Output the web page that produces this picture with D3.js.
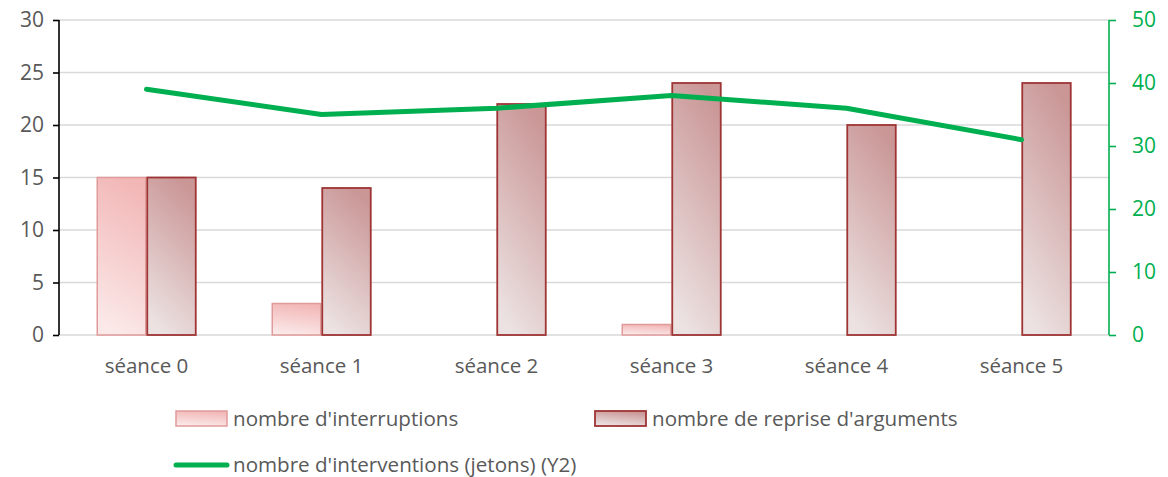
<!DOCTYPE html>
<meta charset="utf-8">
<style>
body { margin: 0; background: #fff; }
text { font-family: "Open Sans", sans-serif; }
.grid line { stroke: #D9D9D9; stroke-width: 1.3; }
.axis--y text { fill: #595959; font-size: 21px; }
.axis--x text { fill: #595959; font-size: 20.5px; }
.axis--y2 text { fill: #00B050; font-size: 21px; }
.legend text { fill: #595959; font-size: 20.6px; }
</style>
<svg width="1168" height="477"></svg>
<script src="https://cdn.jsdelivr.net/npm/d3@7"></script>
<script>
var categories = ["séance 0", "séance 1", "séance 2", "séance 3", "séance 4", "séance 5"];
var interruptions = [15, 3, 0, 1, 0, 0];
var reprises = [15, 14, 22, 24, 20, 24];
var interventions = [39, 35, 36, 38, 36, 31];
var yTicks = [0, 5, 10, 15, 20, 25, 30];
var y2Ticks = [0, 10, 20, 30, 40, 50];
var seriesNames = ["nombre d'interruptions", "nombre de reprise d'arguments", "nombre d'interventions (jetons) (Y2)"];

var svg = d3.select("svg"),
    margin = {top: 20, right: 59, bottom: 142, left: 59},
    width = +svg.attr("width") - margin.left - margin.right,
    height = +svg.attr("height") - margin.top - margin.bottom;

var defs = svg.append("defs");
var g1 = defs.append("linearGradient").attr("id", "gradInt")
    .attr("x1", "0.6").attr("y1", "0").attr("x2", "0.4").attr("y2", "1");
g1.append("stop").attr("offset", "0%").attr("stop-color", "#F2B6B6");
g1.append("stop").attr("offset", "100%").attr("stop-color", "#FBE9E9");
var g2 = defs.append("linearGradient").attr("id", "gradRep")
    .attr("x1", "0.65").attr("y1", "0").attr("x2", "0.35").attr("y2", "1");
g2.append("stop").attr("offset", "0%").attr("stop-color", "#CA9696");
g2.append("stop").attr("offset", "100%").attr("stop-color", "#ECE2E2");

var x = d3.scaleBand().domain(categories).range([0, width]);
var xs = d3.scaleBand().domain([0, 1]).range([0, 100]);
var y = d3.scaleLinear().domain([0, 30]).range([height, 0]);
var y2 = d3.scaleLinear().domain([0, 50]).range([height, 0]);

var chart = svg.append("g")
    .attr("transform", "translate(" + margin.left + "," + margin.top + ")");

// gridlines
chart.append("g").attr("class", "grid")
  .selectAll("line").data(yTicks).enter().append("line")
    .attr("x1", 0).attr("x2", width)
    .attr("y1", function(d) { return y(d); })
    .attr("y2", function(d) { return y(d); });

// bars
var groups = chart.selectAll(".cat").data(categories).enter().append("g")
    .attr("class", "cat")
    .attr("transform", function(d) { return "translate(" + (x(d) + x.bandwidth() / 2 - 50) + ",0)"; });

groups.append("rect")
    .attr("x", xs(0) + 0.75)
    .attr("width", xs.bandwidth() - 1.5)
    .attr("y", function(d, i) { return y(interruptions[i]); })
    .attr("height", function(d, i) { return height - y(interruptions[i]); })
    .attr("fill", "url(#gradInt)")
    .attr("stroke", "#E19A9A")
    .attr("stroke-width", 1.5)
    .style("display", function(d, i) { return interruptions[i] ? null : "none"; });

groups.append("rect")
    .attr("x", xs(1) + 0.75)
    .attr("width", xs.bandwidth() - 1.5)
    .attr("y", function(d, i) { return y(reprises[i]); })
    .attr("height", function(d, i) { return height - y(reprises[i]); })
    .attr("fill", "url(#gradRep)")
    .attr("stroke", "#9E3434")
    .attr("stroke-width", 1.8);

// line on Y2
var line = d3.line()
    .x(function(d, i) { return x(categories[i]) + x.bandwidth() / 2; })
    .y(function(d) { return y2(d); });

chart.append("path")
    .datum(interventions)
    .attr("fill", "none")
    .attr("stroke", "#00B050")
    .attr("stroke-width", 5)
    .attr("stroke-linecap", "round")
    .attr("stroke-linejoin", "round")
    .attr("d", line);

// axes
var yAxis = chart.append("g").attr("class", "axis axis--y")
    .call(d3.axisLeft(y).tickValues(yTicks).tickSize(6).tickPadding(9));
yAxis.select(".domain").attr("stroke", "#000").attr("stroke-width", 1.6).attr("d", "M0," + height + "V0");
yAxis.selectAll(".tick line").attr("stroke", "#000").attr("stroke-width", 1.6);

var y2Axis = chart.append("g").attr("class", "axis axis--y2")
    .attr("transform", "translate(" + width + ",0)")
    .call(d3.axisRight(y2).tickValues(y2Ticks).tickSize(7).tickPadding(16));
y2Axis.select(".domain").attr("stroke", "#00B050").attr("stroke-width", 1.6).attr("d", "M0," + height + "V0");
y2Axis.selectAll(".tick line").attr("stroke", "#00B050").attr("stroke-width", 1.6);

var xAxis = chart.append("g").attr("class", "axis axis--x")
    .attr("transform", "translate(0," + height + ")")
    .call(d3.axisBottom(x).tickSize(0).tickPadding(23));
xAxis.select(".domain").remove();

// legend
var legend = svg.append("g").attr("class", "legend");
var l1 = legend.append("g").attr("transform", "translate(176,411)");
l1.append("rect").attr("width", 51).attr("height", 15)
    .attr("fill", "url(#gradInt)").attr("stroke", "#E19A9A").attr("stroke-width", 1.5);
l1.append("text").attr("x", 57).attr("y", 8).attr("dy", "0.35em").text(seriesNames[0]);

var l2 = legend.append("g").attr("transform", "translate(595,411)");
l2.append("rect").attr("width", 51).attr("height", 15)
    .attr("fill", "url(#gradRep)").attr("stroke", "#9E3434").attr("stroke-width", 1.8);
l2.append("text").attr("x", 57).attr("y", 8).attr("dy", "0.35em").text(seriesNames[1]);

var l3 = legend.append("g").attr("transform", "translate(176,465)");
l3.append("line").attr("x1", 0).attr("x2", 51)
    .attr("stroke", "#00B050").attr("stroke-width", 5).attr("stroke-linecap", "round");
l3.append("text").attr("x", 57).attr("y", 0).attr("dy", "0.35em").text(seriesNames[2]);
</script>
